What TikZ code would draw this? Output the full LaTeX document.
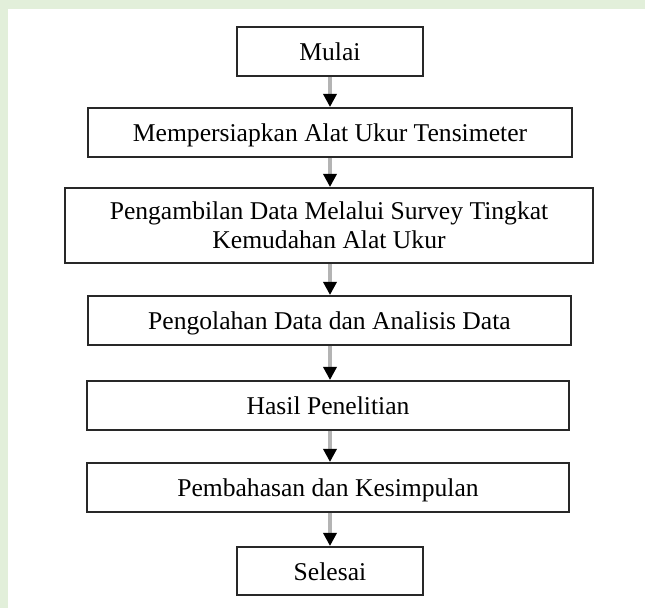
\documentclass[tikz,border=0pt]{standalone}
\usepackage{fontspec}
\setmainfont{Liberation Serif}
\usetikzlibrary{arrows.meta}
\definecolor{bggreen}{RGB}{226,239,218}
\definecolor{shaftgray}{RGB}{180,180,180}
\definecolor{boxline}{RGB}{40,40,40}
\begin{document}
\begin{tikzpicture}[x=0.5pt,y=-0.5pt,
  stepbox/.style={draw=boxline,line width=1pt,fill=white,inner sep=0pt,
    align=center,font=\fontsize{12.8pt}{14.5pt}\selectfont},
  oneline/.style={stepbox,text height=9.6pt,text depth=0.4pt},
  flowarrow/.style={draw=shaftgray,line width=1.6pt,
    -{Triangle[color=black,length=6.5pt,width=6.5pt]}}]
\useasboundingbox (0,0) rectangle (645,608);
\fill[white] (0,0) rectangle (645,608);
\fill[bggreen] (0,0) rectangle (645,9);
\fill[bggreen] (0,0) rectangle (8,608);

\node[oneline,minimum width=93pt,minimum height=24.5pt] (mulai) at (330,51.5) {Mulai};
\node[oneline,minimum width=242pt,minimum height=24.5pt] (siap) at (330,132.5) {Mempersiapkan Alat Ukur Tensimeter};
\node[stepbox,minimum width=264pt,minimum height=37.5pt] (ambil) at (329,225.5) {Pengambilan Data Melalui Survey Tingkat\\Kemudahan Alat Ukur};
\node[oneline,minimum width=241.5pt,minimum height=24.5pt] (olah) at (329.5,320.5) {Pengolahan Data dan Analisis Data};
\node[oneline,minimum width=241pt,minimum height=24.5pt] (hasil) at (328,405.5) {Hasil Penelitian};
\node[oneline,minimum width=241pt,minimum height=24.5pt] (bahas) at (328,487.5) {Pembahasan dan Kesimpulan};
\node[oneline,minimum width=93pt,minimum height=24pt] (selesai) at (330,571) {Selesai};

\draw[flowarrow] (mulai.south) -- (mulai.south |- siap.north);
\draw[flowarrow] (siap.south) -- (siap.south |- ambil.north);
\draw[flowarrow] (ambil.south -| siap.south) -- (siap.south |- olah.north);
\draw[flowarrow] (olah.south -| siap.south) -- (siap.south |- hasil.north);
\draw[flowarrow] (hasil.south -| siap.south) -- (siap.south |- bahas.north);
\draw[flowarrow] (bahas.south -| siap.south) -- (selesai.north);
\end{tikzpicture}
\end{document}
